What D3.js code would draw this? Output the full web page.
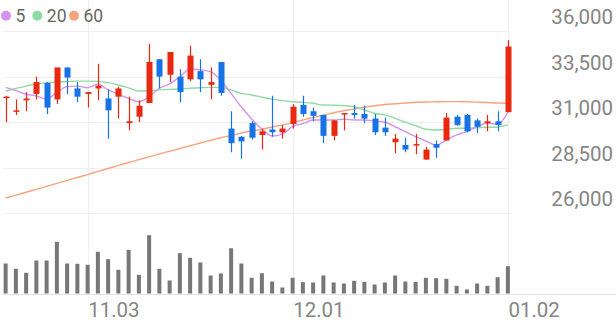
<!DOCTYPE html>
<html><head><meta charset="utf-8">
<script src="https://cdn.jsdelivr.net/npm/d3@7"></script>
<style>
body{margin:0;background:#fff;}
svg{display:block;font-family:Roboto, "Noto Sans", sans-serif;}
</style>
</head><body>
<svg id="chart" width="616" height="321"></svg>
<script>
const dates = ["10.22","10.23","10.24","10.27","10.28","10.29","10.30","10.31",
  "11.03","11.04","11.05","11.06","11.07","11.10","11.11","11.12","11.13","11.14",
  "11.17","11.18","11.19","11.20","11.21","11.24","11.25","11.26","11.27","11.28",
  "12.01","12.02","12.03","12.04","12.05","12.08","12.09","12.10","12.11","12.12",
  "12.15","12.16","12.17","12.18","12.19","12.22","12.23","12.24","12.26","12.29","12.30",
  "01.02"];
const openP = [32350,31600,32200,32550,33150,32250,34000,32850,32550,32850,32300,32400,30950,31300,32050,34450,33600,33500,33350,33800,33050,34300,30650,30200,30950,30300,30600,30450,30900,31950,31600,31400,30250,31450,31500,31450,31200,30700,29900,29750,29750,28950,29800,30000,31300,31400,31100,30950,31050,31550];
const highP = [32450,32250,32650,33500,33200,34000,34000,33200,32650,34200,32800,32950,32400,32200,35300,34450,34850,33900,35200,34450,34000,34300,31600,30250,31050,30650,32450,30850,32000,32450,31800,31400,31100,31500,31950,31900,31450,31250,30350,30150,30350,29650,30000,31500,31400,31450,31200,31400,31600,35500];
const lowP = [31000,31400,31600,32250,31450,32000,32550,32100,31800,32200,30100,31200,30550,31000,32050,32850,33200,32100,33250,32650,32250,32450,29350,29000,30050,29500,30200,30100,30650,31300,31050,29850,30000,30550,31200,30950,30300,30250,29300,29350,29250,28950,29050,30000,30800,30450,30400,30500,30500,31550];
const closeP = [32400,31650,32300,33200,31800,34000,33450,32400,32650,33000,31650,32850,31050,31900,34300,33500,34850,32650,34650,33350,33200,32600,29850,29950,30150,30500,30450,30650,31850,31450,31350,30250,31100,31500,31400,31200,30450,30450,30100,29500,29800,29500,29600,31250,30850,30500,30750,31050,30850,35150];
const volume = [300,247,207,330,330,517,300,297,287,417,343,237,437,187,583,247,130,403,357,310,180,200,453,300,157,203,120,60,157,113,110,180,110,100,127,117,90,110,180,120,117,157,153,147,77,40,100,77,163,273];
const ma5 = [32910,32730,32530,32440,32270,32640,32950,32980,32890,33080,32770,32530,32310,32120,32400,32860,33100,33490,33920,33870,33770,33290,32580,31830,31180,30630,30240,30350,30760,30930,31120,31120,31120,31160,31120,31120,31070,31000,30750,30480,30210,29970,29750,30020,30300,30480,30750,30940,30890,31540];
const ma20 = [32710,32850,32980,33090,33170,33200,33230,33250,33250,33240,33170,33040,32880,32710,32720,32770,32800,32820,32860,32890,32910,32910,32770,32580,32490,32370,32270,32180,32120,32090,32040,31940,31930,31910,31850,31670,31490,31400,31210,31000,30810,30610,30570,30610,30670,30670,30700,30720,30740,30850];
const ma60 = [26850,27000,27160,27320,27480,27650,27810,27970,28130,28300,28460,28630,28790,28950,29100,29260,29410,29560,29710,29860,30010,30150,30270,30410,30520,30610,30740,30850,30980,31120,31260,31380,31520,31630,31720,31820,31900,31970,32010,32050,32090,32110,32120,32130,32130,32120,32100,32080,32050,32040];
const priceTicks = [26000,28500,31000,33500,36000];
const dateTicks = ["11.03","12.01","01.02"];
const legendLabels = ["5","20","60"];
const maColors = ["#d493ee","#8fd9a3","#f7a47e"];
const upColor = "#e8290f", downColor = "#1673e6";

const svg = d3.select("#chart");
const x = d3.scaleBand().domain(dates).range([0.5, 513]).padding(0);
const bw = x.bandwidth();
const cx = d => x(d) + bw/2;
const y = d3.scaleLinear().domain([26000, 36000]).range([213.4, 31]);
const yv = d3.scaleLinear().domain([0, 600]).range([293.5, 233.5]);

// grid
const g = svg.append("g");
g.selectAll("line.h").data(priceTicks).join("line")
  .attr("x1", 3).attr("x2", 511)
  .attr("y1", d => Math.round(y(d)) + 0.5).attr("y2", d => Math.round(y(d)) + 0.5)
  .attr("stroke", "#efefef").attr("stroke-width", 1);
g.selectAll("line.v").data(dateTicks).join("line")
  .attr("x1", d => Math.round(cx(d)) + 0.5).attr("x2", d => Math.round(cx(d)) + 0.5)
  .attr("y1", 0).attr("y2", 294)
  .attr("stroke", "#efefef").attr("stroke-width", 1);
// baseline
svg.append("line").attr("x1", 3).attr("x2", 616).attr("y1", 294.5).attr("y2", 294.5)
  .attr("stroke", "#e3e3e3").attr("stroke-width", 1);

// y labels
svg.selectAll("text.yl").data(priceTicks).join("text")
  .attr("x", 613).attr("y", d => y(d) - 7)
  .attr("text-anchor", "end").attr("font-size", 20.5).attr("fill", "#858585")
  .text(d => d3.format(",")(d));
// x labels
svg.selectAll("text.xl").data(dateTicks).join("text")
  .attr("x", d => cx(d) + 0.5).attr("y", 316.5)
  .attr("text-anchor", "start").attr("font-size", 20.5).attr("fill", "#858585")
  .text(d => d);

// volume
svg.append("g").selectAll("rect").data(dates).join("rect")
  .attr("x", d => cx(d) - 2).attr("width", 4)
  .attr("y", (d, i) => yv(volume[i])).attr("height", (d, i) => yv(0) - yv(volume[i]))
  .attr("fill", "#777777");

// MA lines
const mas = [ma5, ma20, ma60];
const line = d3.line().x((v, i) => cx(dates[i])).y(v => y(v)).curve(d3.curveMonotoneX);
[2, 1, 0].forEach(k => {
  svg.append("path").attr("d", line(mas[k])).attr("fill", "none")
    .attr("stroke", maColors[k]).attr("stroke-width", 1.4);
});

// candles
const cg = svg.append("g");
dates.forEach((d, i) => {
  const up = closeP[i] >= openP[i];
  const col = up ? upColor : downColor;
  const xc = Math.round(cx(d));
  cg.append("line").attr("x1", xc + 0.5).attr("x2", xc + 0.5)
    .attr("y1", y(highP[i])).attr("y2", y(lowP[i]))
    .attr("stroke", col).attr("stroke-width", 1.2);
  const top = y(Math.max(openP[i], closeP[i]));
  const h = Math.max(1.5, Math.abs(y(openP[i]) - y(closeP[i])));
  cg.append("rect").attr("x", xc - 2.5).attr("width", 6)
    .attr("y", top).attr("height", h).attr("fill", col);
});

// legend
const lg = svg.append("g");
const lx = [6, 37.3, 74];
legendLabels.forEach((t, k) => {
  lg.append("circle").attr("cx", lx[k]).attr("cy", 15.7).attr("r", 5).attr("fill", maColors[k]);
  lg.append("text").attr("x", lx[k] + 9.5).attr("y", 21.6).attr("font-size", 17.5)
    .attr("fill", "#666").text(t);
});
</script>
</body></html>
